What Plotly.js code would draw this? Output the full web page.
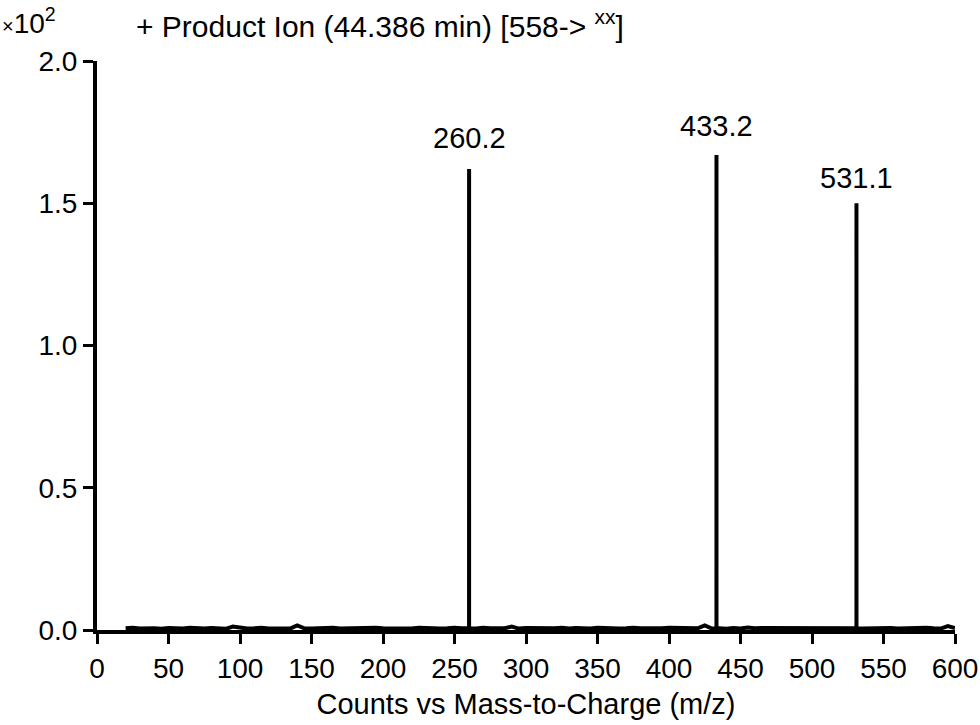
<!DOCTYPE html>
<html>
<head>
<meta charset="utf-8">
<script src="https://cdn.plot.ly/plotly-3.0.1.min.js"></script>
<style>
  html, body { margin: 0; padding: 0; background: #fff; }
  #plot { width: 980px; height: 725px; }
</style>
</head>
<body>
<div id="plot"></div>
<script>
// Peaks (m/z, intensity in x10^2 counts)
var peakMz = [260.2, 433.2, 531.1];
var peakInt = [1.62, 1.67, 1.50];
var peakLabels = ['260.2', '433.2', '531.1'];

// Baseline noise, one point every 5 m/z from 20 to 600
var noiseStart = 20;
var noiseStep = 5;
var noiseInt = [
  0.006, 0.008, 0.005, 0.007, 0.006, 0.004, 0.007, 0.006, 0.005, 0.008,
  0.006, 0.005, 0.007, 0.006, 0.004, 0.012, 0.007, 0.005, 0.006, 0.008,
  0.005, 0.006, 0.007, 0.005, 0.016, 0.006, 0.005, 0.007, 0.006, 0.008,
  0.005, 0.006, 0.007, 0.005, 0.006, 0.008, 0.006, 0.005, 0.007, 0.006,
  0.005, 0.008, 0.006, 0.007, 0.005, 0.006, 0.008, 0.006, 0.007, 0.005,
  0.008, 0.006, 0.007, 0.006, 0.012, 0.005, 0.007, 0.006, 0.005, 0.007,
  0.006, 0.008, 0.005, 0.007, 0.006, 0.005, 0.008, 0.006, 0.007, 0.005,
  0.006, 0.008, 0.006, 0.005, 0.007, 0.006, 0.008, 0.007, 0.006, 0.008,
  0.006, 0.016, 0.005, 0.006, 0.004, 0.007, 0.005, 0.009, 0.006, 0.007,
  0.007, 0.006, 0.008, 0.007, 0.006, 0.008, 0.007, 0.006, 0.005, 0.007,
  0.008, 0.006, 0.007, 0.005, 0.006, 0.008, 0.006, 0.007, 0.005, 0.006,
  0.007, 0.006, 0.008, 0.006, 0.005, 0.014, 0.007
];

var xTicks = [0, 50, 100, 150, 200, 250, 300, 350, 400, 450, 500, 550, 600];

// build one stick spectrum trace: baseline with the peaks dropped in
var pts = [];
for (var i = 0; i < noiseInt.length; i++) {
  pts.push([noiseStart + i * noiseStep, noiseInt[i]]);
}
for (var j = 0; j < peakMz.length; j++) {
  pts.push([peakMz[j] - 0.01, 0.006]);
  pts.push([peakMz[j], peakInt[j]]);
  pts.push([peakMz[j] + 0.01, 0.006]);
}
pts.sort(function(a, b) { return a[0] - b[0]; });

var trace = {
  x: pts.map(function(p) { return p[0]; }),
  y: pts.map(function(p) { return p[1]; }),
  type: 'scatter',
  mode: 'lines',
  line: {color: '#000', width: 4},
  hoverinfo: 'x+y'
};

// label gaps above each stick (px), as the original software placed them
var labelShift = [13, 11, 7];
var annots = [];
for (var k = 0; k < peakMz.length; k++) {
  annots.push({
    x: peakMz[k], y: peakInt[k], xref: 'x', yref: 'y',
    text: peakLabels[k], showarrow: false,
    yanchor: 'bottom', yshift: labelShift[k],
    font: {size: 29, color: '#000'}
  });
}
// multiplier in the top-left corner
annots.push({
  x: -97 / 858, y: 1 + 60 / 569, xref: 'paper', yref: 'paper',
  text: '<span style="font-size:20px">×</span>10<sup>2</sup>', showarrow: false,
  xanchor: 'left', yanchor: 'top',
  font: {size: 28, color: '#000'}
});

var layout = {
  width: 980,
  height: 725,
  font: {family: 'Liberation Sans, Arial, sans-serif', size: 28, color: '#000'},
  margin: {l: 97, t: 61, r: 25, b: 95},
  paper_bgcolor: '#fff',
  plot_bgcolor: '#fff',
  showlegend: false,
  title: {
    text: '+ Product Ion (44.386 min) [558-> <sup>xx</sup>]',
    font: {size: 30, color: '#000'},
    xref: 'container', x: 136 / 980, xanchor: 'left',
    yref: 'container', y: 1 - 26 / 725, yanchor: 'middle'
  },
  xaxis: {
    title: {text: 'Counts vs Mass-to-Charge (m/z)', font: {size: 29}, standoff: 12},
    range: [0, 600],
    tickvals: xTicks,
    showline: true, linewidth: 4, linecolor: '#000',
    ticks: 'outside', ticklen: 10, tickwidth: 3, tickcolor: '#000',
    showgrid: false, zeroline: false, automargin: false
  },
  yaxis: {
    range: [0, 2.0],
    dtick: 0.5,
    tickformat: '.1f',
    showline: true, linewidth: 4, linecolor: '#000',
    ticks: 'outside', ticklen: 10, tickwidth: 3, tickcolor: '#000',
    showgrid: false, zeroline: false, automargin: false
  },
  annotations: annots
};

Plotly.newPlot('plot', [trace], layout, {displayModeBar: false});
</script>
</body>
</html>
